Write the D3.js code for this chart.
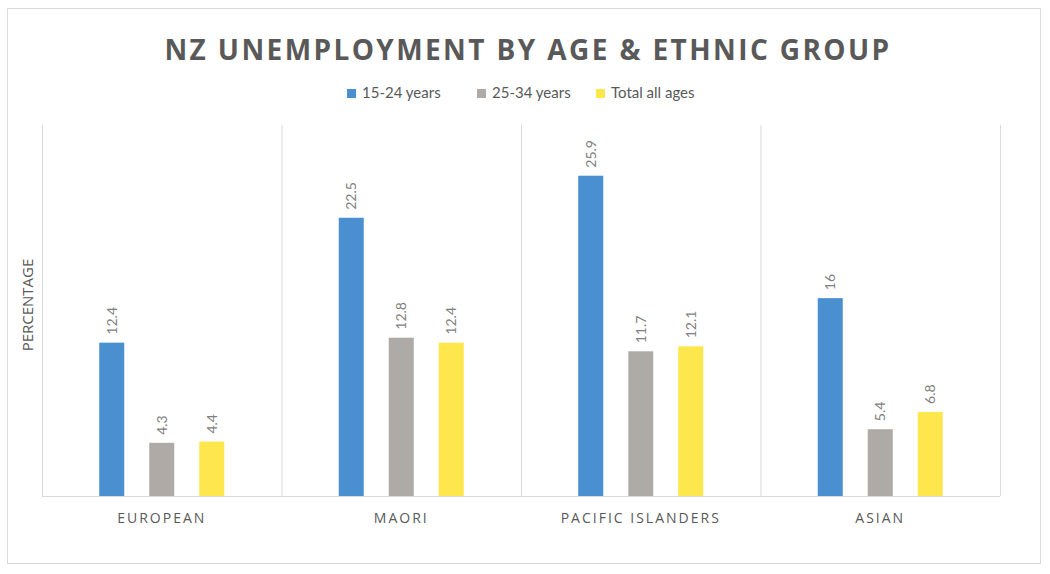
<!DOCTYPE html>
<html>
<head>
<meta charset="utf-8">
<script src="https://cdnjs.cloudflare.com/ajax/libs/d3/7.8.5/d3.min.js"></script>
<style>
  body { margin: 0; background: #fff; }
  svg { display: block; }
</style>
</head>
<body>
<div id="chart"></div>
<script>
// Chart data
const groups = ['EUROPEAN', 'MAORI', 'PACIFIC ISLANDERS', 'ASIAN'];
const seriesNames = ['15-24 years', '25-34 years', 'Total all ages'];
const youth = [12.4, 22.5, 25.9, 16];
const young = [4.3, 12.8, 11.7, 5.4];
const total = [4.4, 12.4, 12.1, 6.8];
const seriesValues = [youth, young, total];
const colors = ['#4a8fd0', '#aeaaa8', '#fde74c'];

const width = 1050, height = 574;
const margin = { top: 125, right: 50, bottom: 78, left: 42 };
const plotW = width - margin.left - margin.right;
const plotH = height - margin.top - margin.bottom;

const svg = d3.select('#chart').append('svg')
    .attr('width', width)
    .attr('height', height);

// Outer chart border
svg.append('rect')
    .attr('x', 7.5).attr('y', 8.5)
    .attr('width', 1033).attr('height', 555)
    .attr('fill', '#fff')
    .attr('stroke', '#d9d9d9');

// Title
svg.append('text')
    .attr('x', 528).attr('y', 60)
    .attr('text-anchor', 'middle')
    .attr('font-family', 'Open Sans, sans-serif')
    .attr('font-weight', 'bold')
    .attr('font-size', 28)
    .attr('letter-spacing', 2.4)
    .attr('fill', '#595959')
    .text('NZ UNEMPLOYMENT BY AGE & ETHNIC GROUP');

// Legend
const legendX = [347, 477, 596];
const legend = svg.append('g');
seriesNames.forEach((name, i) => {
    const item = legend.append('g').attr('transform', `translate(${legendX[i]},93)`);
    item.append('rect')
        .attr('x', 0).attr('y', -4)
        .attr('width', 9).attr('height', 9)
        .attr('fill', colors[i]);
    item.append('text')
        .attr('x', 15).attr('y', 0)
        .attr('dy', '0.35em')
        .attr('font-family', 'Lato, sans-serif')
        .attr('font-size', 15)
        .attr('fill', '#595959')
        .text(name);
});

const g = svg.append('g').attr('transform', `translate(${margin.left},${margin.top})`);

const x = d3.scaleBand().domain(groups).range([0, plotW]);
const y = d3.scaleLinear().domain([0, 30]).range([plotH, 0]);
const xInner = d3.scaleBand()
    .domain(d3.range(seriesNames.length))
    .range([x.bandwidth() / 2 - 62.5, x.bandwidth() / 2 + 62.5])
    .paddingInner(0.5)
    .paddingOuter(0);

// Vertical category separators
g.append('g')
    .selectAll('line')
    .data(d3.range(groups.length + 1))
    .join('line')
    .attr('x1', i => i * x.step() + 0.5)
    .attr('x2', i => i * x.step() + 0.5)
    .attr('y1', 0)
    .attr('y2', plotH)
    .attr('stroke', '#d9d9d9');

// Bottom axis line
g.append('line')
    .attr('x1', 0).attr('x2', plotW)
    .attr('y1', plotH + 0.5).attr('y2', plotH + 0.5)
    .attr('stroke', '#d9d9d9');

// Bars
seriesValues.forEach((values, s) => {
    const sg = g.append('g');
    sg.selectAll('rect')
        .data(values)
        .join('rect')
        .attr('x', (d, i) => x(groups[i]) + xInner(s))
        .attr('y', d => y(d))
        .attr('width', xInner.bandwidth())
        .attr('height', d => plotH - y(d))
        .attr('fill', colors[s]);

    // Rotated value labels
    sg.selectAll('text')
        .data(values)
        .join('text')
        .attr('transform', (d, i) => {
            const cx = x(groups[i]) + xInner(s) + xInner.bandwidth() / 2;
            return `translate(${cx},${y(d) - 8}) rotate(-90)`;
        })
        .attr('dy', '0.35em')
        .attr('text-anchor', 'start')
        .attr('font-family', 'Lato, sans-serif')
        .attr('font-size', 14)
        .attr('fill', '#7f7f7f')
        .text(d => d);
});

// Category labels
g.append('g')
    .selectAll('text')
    .data(groups)
    .join('text')
    .attr('x', d => x(d) + x.bandwidth() / 2)
    .attr('y', plotH + 27)
    .attr('text-anchor', 'middle')
    .attr('font-family', 'Open Sans, sans-serif')
    .attr('font-size', 14)
    .attr('letter-spacing', 2)
    .attr('fill', '#595959')
    .text(d => d);

// Y axis title
svg.append('text')
    .attr('transform', 'translate(33,305) rotate(-90)')
    .attr('text-anchor', 'middle')
    .attr('font-family', 'Open Sans, sans-serif')
    .attr('font-size', 15)
    .attr('fill', '#595959')
    .text('PERCENTAGE');
</script>
</body>
</html>
